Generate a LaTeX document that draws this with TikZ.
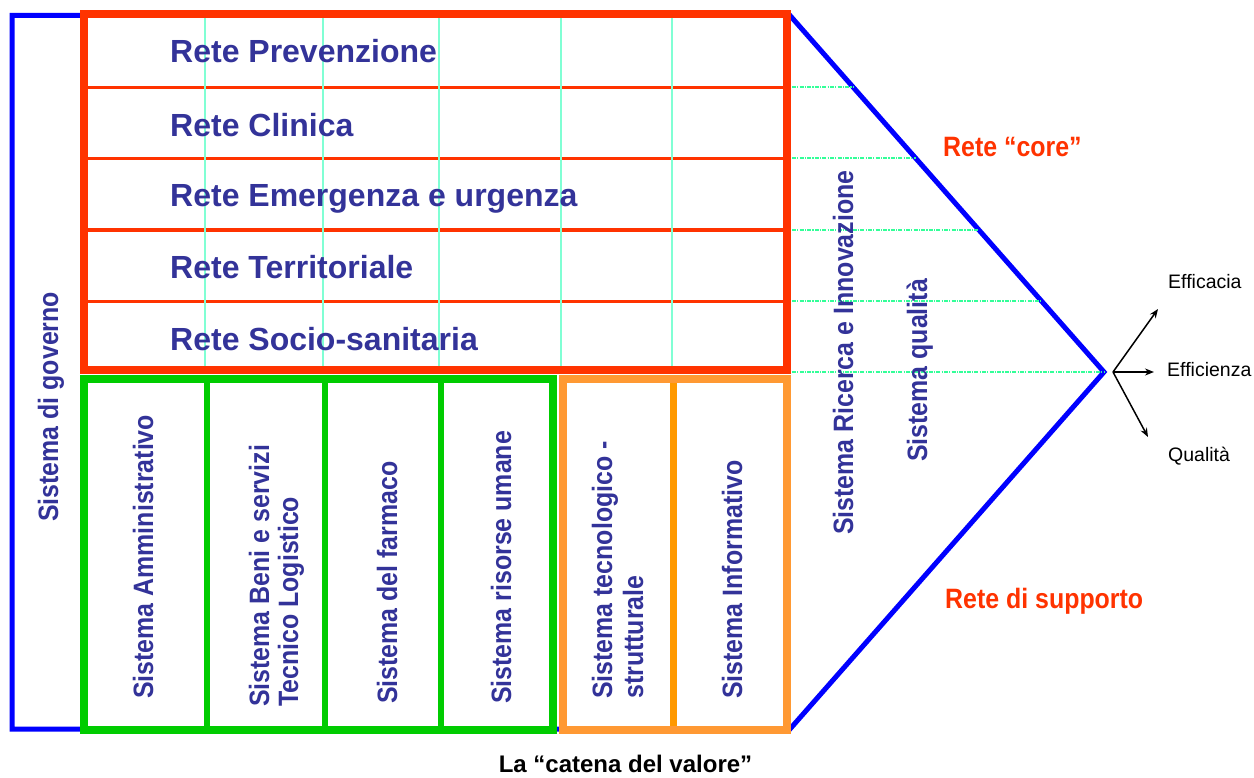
\documentclass[tikz,border=0pt]{standalone}
\usepackage{fontspec}
\setmainfont{Liberation Sans}
\newfontfamily\condfont[FakeStretch=0.89]{Liberation Sans}
\usetikzlibrary{arrows.meta}
\definecolor{navyt}{HTML}{333399}
\definecolor{redc}{HTML}{FF3300}
\definecolor{greenc}{HTML}{00CC00}
\definecolor{orangec}{HTML}{FF9933}
\definecolor{orangediv}{HTML}{FF9900}
\definecolor{bluec}{HTML}{0000FF}
\definecolor{aquac}{HTML}{80FFD4}
\definecolor{dashc}{HTML}{33FF99}
\tikzset{
  rowtxt/.style={font=\fontsize{32}{36}\selectfont\bfseries, text=navyt, anchor=base west, inner sep=0pt},
  vtxt/.style={font=\condfont\fontsize{28}{30}\selectfont\bfseries, text=navyt, rotate=90, anchor=base west, inner sep=0pt},
  redtxt/.style={font=\condfont\fontsize{28}{30}\selectfont\bfseries, text=redc, anchor=base west, inner sep=0pt},
  outtxt/.style={font=\fontsize{19.5}{22}\selectfont, text=black, anchor=base west, inner sep=0pt},
  captxt/.style={font=\fontsize{24}{28}\selectfont\bfseries, text=black, anchor=base, inner sep=0pt},
  bluebox/.style={draw=bluec, line width=5pt, line join=miter},
  redbox/.style={draw=redc, line width=8pt},
  reddiv/.style={draw=redc, line width=3.5pt},
  greenbox/.style={draw=greenc, line width=8pt},
  greendiv/.style={draw=greenc, line width=6pt},
  orangebox/.style={draw=orangec, line width=8pt},
  orangediv/.style={draw=orangediv, line width=7pt},
  gridline/.style={draw=aquac, line width=2pt},
  guideline/.style={draw=dashc, line width=2pt, dash pattern=on 4pt off 1.2pt on 1.2pt off 1.2pt},
  outarrow/.style={draw=black, line width=1.5pt, -{Stealth[length=9pt,width=7pt]}}
}
\begin{document}
\begin{tikzpicture}[x=1pt,y=-1pt]
\useasboundingbox (0,0) rectangle (1254,778);
\fill[white] (0,0) rectangle (1254,778);

% outer blue frame (Sistema di governo + value chain arrow)
\coordinate (tl) at (790,15.5);
\coordinate (bl) at (790,729);
\coordinate (apex) at (1104,372);
\draw[bluebox] (tl) -- (12,15.5) -- (12,729) -- (bl) -- (apex) -- cycle;

% guide lines on the right
\foreach \yy/\xe in {87/853,158.5/916,230/979,301/1041,372/1104}{
  \draw[guideline] (792,\yy) -- (\xe,\yy);
}

% red core box
\foreach \yy in {87.5,158.5,230,301.5}{
  \draw[reddiv] (84,\yy) -- (787,\yy);
}
\foreach \xx in {205,323,439,561,672}{
  \draw[gridline] (\xx,18) -- (\xx,366);
}
\draw[redbox] (84,14) rectangle (787,369.5);

% green support box
\draw[greendiv] (206.5,379) -- (206.5,730);
\draw[greendiv] (324.5,379) -- (324.5,730);
\draw[greendiv] (440.5,379) -- (440.5,730);
\draw[greenbox] (83.5,379) rectangle (553,730);

% orange support box
\draw[orangediv] (673.5,379) -- (673.5,730);
\draw[orangebox] (563,379) rectangle (786.5,730);

% row labels
\node[rowtxt] (r1) at (170,63) {Rete Prevenzione};
\node[rowtxt] (r2) at (170,137) {Rete Clinica};
\node[rowtxt] (r3) at (170,207) {Rete Emergenza e urgenza};
\node[rowtxt] (r4) at (170,279) {Rete Territoriale};
\node[rowtxt] (r5) at (170,350) {Rete Socio-sanitaria};

% vertical labels
\node[vtxt] (gov) at (58,522) {Sistema di governo};
\node[vtxt] (amm) at (153,699) {Sistema Amministrativo};
\node[vtxt] (beni1) at (269,707) {Sistema Beni e servizi};
\node[vtxt] (beni2) at (298,707) {Tecnico Logistico};
\node[vtxt] (farm) at (397,704) {Sistema del farmaco};
\node[vtxt] (ris) at (511,704) {Sistema risorse umane};
\node[vtxt] (tec1) at (612,699) {Sistema tecnologico -};
\node[vtxt] (tec2) at (643,699) {strutturale};
\node[vtxt] (inf) at (742,699) {Sistema Informativo};
\node[vtxt] (ric) at (853,535) {Sistema Ricerca e Innovazione};
\node[vtxt] (qual) at (927,462) {Sistema qualità};

% red labels
\node[redtxt] (core) at (943,157) {Rete “core”};
\node[redtxt] (supp) at (945,608) {Rete di supporto};

% outcome arrows
\coordinate (src) at (1113,372);
\coordinate (tipA) at (1158,309);
\coordinate (tipB) at (1154,372);
\coordinate (tipC) at (1148,437);
\draw[outarrow] (src) -- (tipA);
\draw[outarrow] (src) -- (tipB);
\draw[outarrow] (src) -- (tipC);
\node[outtxt] (eff1) at (1168,289) {Efficacia};
\node[outtxt] (eff2) at (1167,376) {Efficienza};
\node[outtxt] (qlt) at (1168,461) {Qualità};

% caption
\node[captxt] (cap) at (625.5,772) {La “catena del valore”};
\end{tikzpicture}
\end{document}
